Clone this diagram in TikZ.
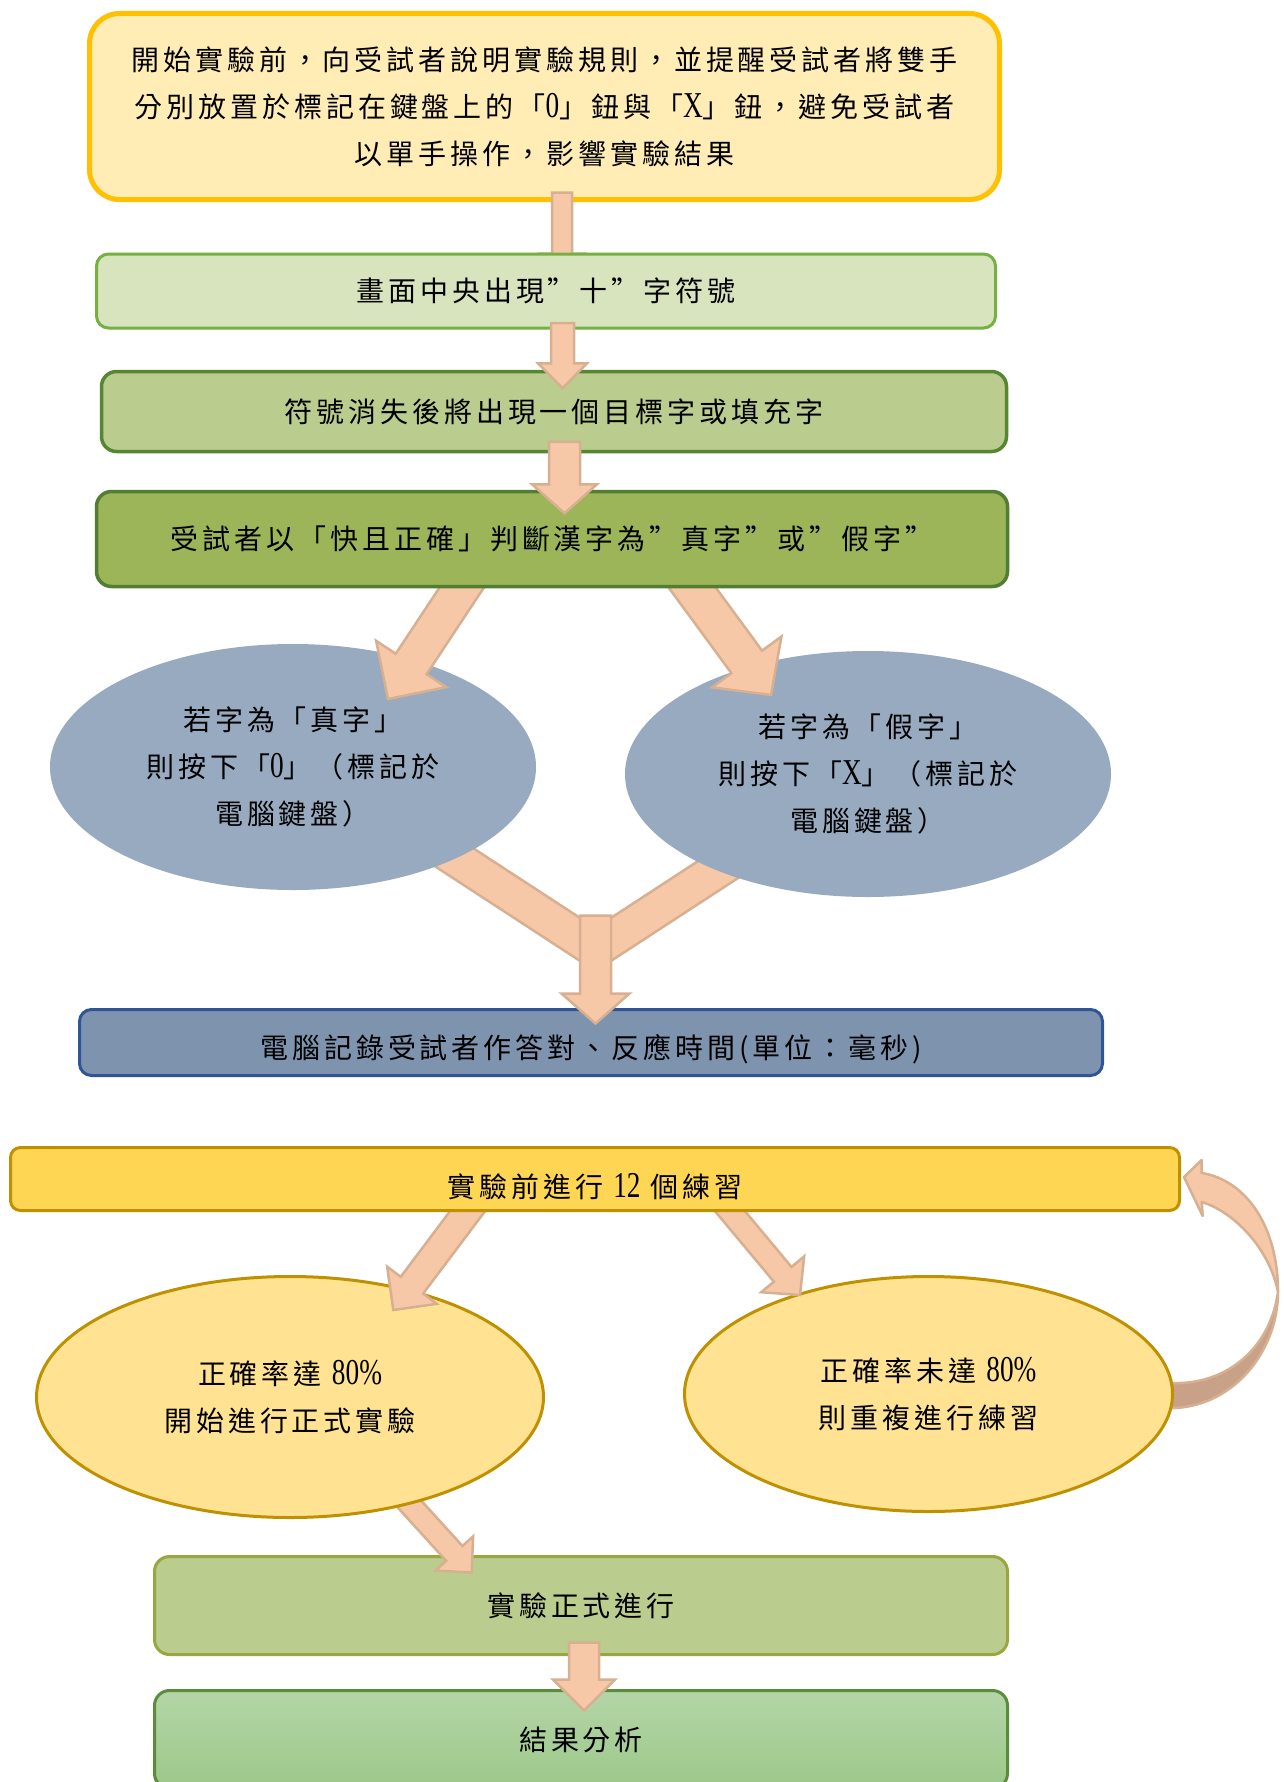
\documentclass[tikz,border=0pt]{standalone}
\usepackage{fontspec}
\usetikzlibrary{calc,shapes.geometric}
\newfontfamily\cjk[LetterSpace=14]{Noto Sans CJK TC}
\newfontfamily\lat[Scale=1.3,FakeStretch=0.75]{Liberation Serif}
\definecolor{introfill}{HTML}{FFEDB5}
\definecolor{introline}{HTML}{FFC000}
\definecolor{crossfill}{HTML}{D7E4BD}
\definecolor{crossline}{HTML}{76B041}
\definecolor{vanishfill}{HTML}{BACC8E}
\definecolor{vanishline}{HTML}{558632}
\definecolor{judgefill}{HTML}{9BB558}
\definecolor{judgeline}{HTML}{527D32}
\definecolor{keyfill}{HTML}{97AAC0}
\definecolor{recordfill}{HTML}{7E93AE}
\definecolor{recordline}{HTML}{2F5597}
\definecolor{goldfill}{HTML}{FFD653}
\definecolor{goldline}{HTML}{BF9000}
\definecolor{passfill}{HTML}{FFE392}
\definecolor{formalfill}{HTML}{BACC8E}
\definecolor{formalline}{HTML}{9AA740}
\definecolor{resulttop}{HTML}{B4D5A7}
\definecolor{resultbot}{HTML}{9CC889}
\definecolor{resultline}{HTML}{5B8C3C}
\definecolor{arrowfill}{HTML}{F7C8A8}
\definecolor{arrowline}{HTML}{D6B091}
\definecolor{arrowdark}{HTML}{C9A189}
\pgfdeclarelayer{z0}\pgfdeclarelayer{z1}\pgfdeclarelayer{z2}\pgfdeclarelayer{z3}\pgfdeclarelayer{z5}
\pgfsetlayers{z0,z1,z2,z3,main,z5}
% block arrow: tail, tip, half shaft, half head, head length
\newcommand{\fatarrow}[5]{%
  \coordinate (fa-b) at ($(#2)!#5pt!(#1)$);
  \draw[blockarrow] ($(#1)!#3pt!90:(#2)$) -- ($(fa-b)!#3pt!90:(#2)$) -- ($(fa-b)!#4pt!90:(#2)$) -- (#2)
    -- ($(fa-b)!#4pt!-90:(#2)$) -- ($(fa-b)!#3pt!-90:(#2)$) -- ($(#1)!#3pt!-90:(#2)$) -- cycle;}
% block bar without head
\newcommand{\fatbar}[3]{%
  \draw[blockarrow] ($(#1)!#3pt!90:(#2)$) -- ($(#2)!#3pt!-90:(#1)$) -- ($(#2)!#3pt!90:(#1)$) -- ($(#1)!#3pt!-90:(#2)$) -- cycle;}
% text set lower in its box
\newcommand{\droptext}[2]{\raisebox{-#1pt}[\height][\depth]{#2}}

\begin{document}
\begin{tikzpicture}[x=1pt,y=-1pt,
    every node/.style={font=\cjk\fontsize{28}{47}\selectfont,align=center,inner sep=0pt},
    flowbox/.style={rectangle,rounded corners=15pt,line width=3pt},
    keyoval/.style={ellipse,fill=keyfill,minimum width=486pt,minimum height=246pt},
    tryoval/.style={ellipse,fill=passfill,draw=goldline,line width=3pt},
    blockarrow/.style={fill=arrowfill,draw=arrowline,line width=2.5pt}]
    \useasboundingbox (0,0) rectangle (1283,1782);
    \begin{pgfonlayer}{z0}
      \fill[white] (0,0) rectangle (1283,1782);
      \node[flowbox,rounded corners=12pt,fill=recordfill,draw=recordline,minimum width=1023pt,minimum height=66pt] (record) at (591,1042.5) {\droptext{7}{電腦記錄受試者作答對、反應時間(單位：毫秒)}};
      \node[flowbox,fill=formalfill,draw=formalline,minimum width=853pt,minimum height=98pt] (formal) at (581,1605.5) {實驗正式進行};
      \node[flowbox,top color=resulttop,bottom color=resultbot,draw=resultline,minimum width=853pt,minimum height=98pt] (result) at (581,1739.5) {結果分析};
    \end{pgfonlayer}
    \begin{pgfonlayer}{z2}
      \node[flowbox,rounded corners=30pt,line width=5pt,fill=introfill,draw=introline,minimum width=910pt,minimum height=186pt] (intro) at (544.5,106.5)
        {開始實驗前，向受試者說明實驗規則，並提醒受試者將雙手\\分別放置於標記在鍵盤上的「{\lat 0}」鈕與「{\lat X}」鈕，避免受試者\\以單手操作，影響實驗結果};
      \node[keyoval] (truek) at (293,767) {若字為「真字」\\則按下「{\lat 0}」（標記於\\電腦鍵盤）};
      \node[keyoval] (fakek) at (868,774) {若字為「假字」\\則按下「{\lat X}」（標記於\\電腦鍵盤）};
      \node[tryoval,minimum width=507pt,minimum height=241pt] (pass) at (290,1397) {正確率達 {\lat 80\%}\\開始進行正式實驗};
      \node[tryoval,minimum width=488pt,minimum height=235pt] (fail) at (928.5,1394) {正確率未達 {\lat 80\%}\\則重複進行練習};
    \end{pgfonlayer}
    \node[flowbox,rounded corners=12pt,fill=crossfill,draw=crossline,minimum width=899pt,minimum height=74pt] (cross) at (546,291) {畫面中央出現”十”字符號};
    \node[flowbox,line width=3.5pt,fill=vanishfill,draw=vanishline,minimum width=905pt,minimum height=80pt] (vanish) at (554,411.5) {符號消失後將出現一個目標字或填充字};
    \node[flowbox,line width=3.5pt,fill=judgefill,draw=judgeline,minimum width=911pt,minimum height=95pt] (judge) at (552,539) {受試者以「快且正確」判斷漢字為”真字”或”假字”};
    \node[flowbox,rounded corners=10pt,fill=goldfill,draw=goldline,minimum width=1169pt,minimum height=63pt] (practice) at (595,1179) {\droptext{8}{實驗前進行 {\lat 12} 個練習}};

    % arrows above the first row
    \begin{pgfonlayer}{z3}
      \coordinate (a1s) at ($(intro.south)+(17.5,-9.5)$);
      \coordinate (a1e) at ($(cross.north)+(16,26)$);
      \fatarrow{a1s}{a1e}{10}{22}{25}
      \coordinate (a4s) at ($(judge.south)+(-69.6,-32)$);
      \coordinate (a4e) at ($(truek.center)+(95,-68)$);
      \fatarrow{a4s}{a4e}{18.5}{42}{42}
      \coordinate (a5s) at ($(judge.south)+(118,-31)$);
      \coordinate (a5e) at ($(fakek.center)+(-97,-79)$);
      \fatarrow{a5s}{a5e}{19}{43}{41}
      \coordinate (a8s) at ($(practice.south)+(-111.1,-22.6)$);
      \coordinate (a8e) at ($(pass.center)+(103.3,-87)$);
      \fatarrow{a8s}{a8e}{14}{31}{31}
      \coordinate (a9s) at ($(practice.south)+(118.4,-20.7)$);
      \coordinate (a9e) at ($(fail.center)+(-128.5,-99)$);
      \fatarrow{a9s}{a9e}{11.5}{28}{27}
    \end{pgfonlayer}
    \begin{pgfonlayer}{z5}
      \coordinate (a2s) at ($(cross.south)+(16.5,-6.5)$);
      \coordinate (a2e) at ($(vanish.north)+(8.5,18.5)$);
      \fatarrow{a2s}{a2e}{11.5}{24.5}{25}
      \coordinate (a3s) at ($(vanish.south)+(10.5,-11.5)$);
      \coordinate (a3e) at ($(judge.north)+(12.5,23.5)$);
      \fatarrow{a3s}{a3e}{15.5}{32.5}{29}
    \end{pgfonlayer}
    \begin{pgfonlayer}{z1}
      % two keys merge into one arrow
      \coordinate (mj) at ($(record.north)+(4.5,-58.5)$);
      \fatbar{$(truek.center)+(127,68)$}{mj}{18}
      \fatbar{$(fakek.center)+(-97,61)$}{mj}{18}
      \coordinate (mje) at ($(record.north)+(4.5,15.5)$);
      \fatarrow{$(mj)+(0,-34)$}{mje}{15.5}{34}{30}
      \coordinate (a10s) at ($(pass.center)+(100,85.6)$);
      \coordinate (a10e) at ($(formal.north)+(-109.3,17.5)$);
      \fatarrow{a10s}{a10e}{11}{25.4}{25.8}
      \coordinate (a11s) at ($(formal.south)+(3,-13.5)$);
      \coordinate (a11e) at ($(result.north)+(3,21.5)$);
      \fatarrow{a11s}{a11e}{15}{31}{31}
      % loop back to practice
      \coordinate (loopTip) at ($(practice.east)+(3,-2)$);
      \coordinate (loopTop) at ($(fail.east)+(-6,-11)$);
      \coordinate (loopBot) at ($(fail.east)+(-6,14)$);
      \draw[blockarrow,fill=arrowdark,line join=round] (1278,1292) .. controls (1278,1350) and (1235,1405) .. (1175,1408)
        -- (loopBot) -- (loopTop) -- (1175,1383) .. controls (1225,1384) and (1270,1350) .. (1278,1292) -- cycle;
      \draw[blockarrow,line join=round] (1278,1292) .. controls (1278,1225) and (1245,1180) .. (1201.7,1173)
        -- (1201.7,1160) -- (loopTip) -- (1202.7,1216) -- (1201.7,1202) .. controls (1235,1212) and (1270,1250) .. (1278,1292) -- cycle;
    \end{pgfonlayer}
\end{tikzpicture}
\end{document}
